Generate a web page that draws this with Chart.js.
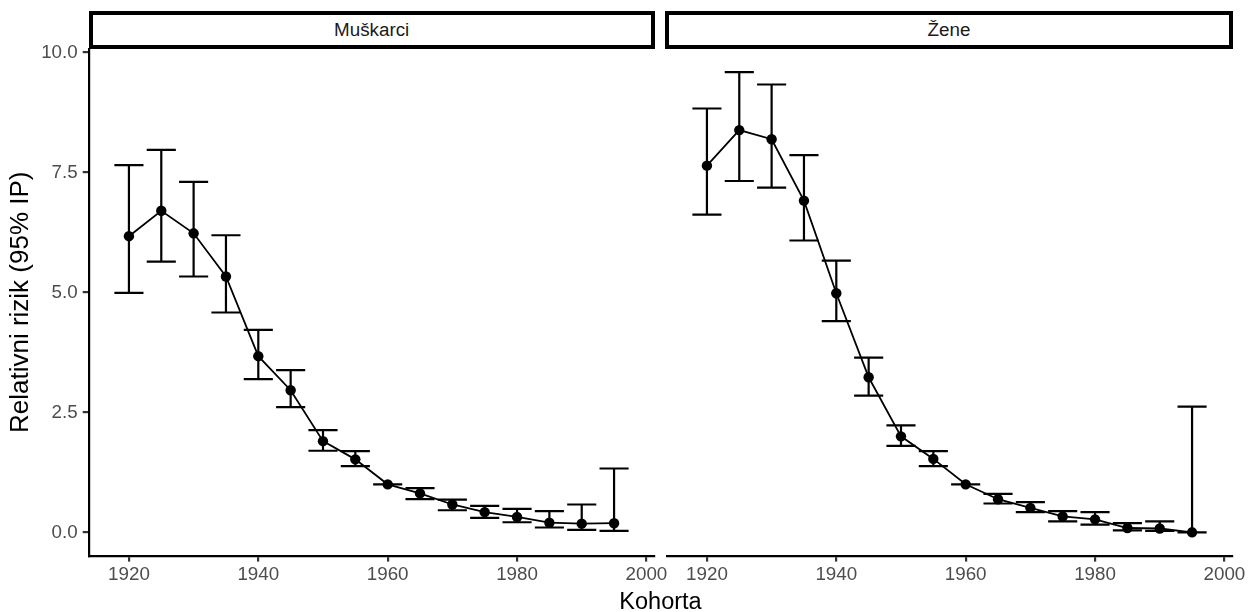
<!DOCTYPE html>
<html>
<head>
<meta charset="utf-8">
<title>Relativni rizik po kohortama</title>
<script src="https://cdn.jsdelivr.net/npm/chart.js@4"></script>
<style>
  html, body { margin: 0; padding: 0; background: #fff; }
  #wrap { position: relative; width: 1248px; height: 612px; overflow: hidden; background: #fff; }
  #wrap canvas { position: absolute; left: 0; top: 0; }
  .strip {
    position: absolute; top: 11px; height: 38px; box-sizing: border-box;
    border: 4px solid #000; background: #fff;
    font: 18.8px "Liberation Sans", Arial, sans-serif; color: #1a1a1a;
    display: flex; align-items: center; justify-content: center;
  }
  #xtitle {
    position: absolute; left: 88.7px; width: 1143.6px; top: 588px;
    text-align: center; line-height: 1;
    font: 23.5px "Liberation Sans", Arial, sans-serif; color: #000;
  }
</style>
</head>
<body>
<div id="wrap">
  <canvas id="muski" width="1248" height="612"></canvas>
  <canvas id="zene" width="1248" height="612"></canvas>
  <div class="strip" style="left:88.7px;width:566px;">Muškarci</div>
  <div class="strip" style="left:665px;width:568px;">Žene</div>
  <div id="xtitle">Kohorta</div>
</div>
<script>
// Kohorte (godina rođenja)
const kohorte = [1920, 1925, 1930, 1935, 1940, 1945, 1950, 1955, 1960, 1965, 1970, 1975, 1980, 1985, 1990, 1995];

// Muškarci: relativni rizik i 95% interval pouzdanosti
const muskarciRR     = [6.17, 6.70, 6.23, 5.33, 3.67, 2.96, 1.90, 1.52, 1.00, 0.81, 0.58, 0.42, 0.32, 0.20, 0.18, 0.19];
const muskarciDonja  = [4.99, 5.64, 5.33, 4.58, 3.19, 2.61, 1.70, 1.38, 1.00, 0.69, 0.46, 0.30, 0.21, 0.10, 0.05, 0.03];
const muskarciGornja = [7.65, 7.97, 7.30, 6.19, 4.22, 3.38, 2.13, 1.69, 1.00, 0.92, 0.68, 0.55, 0.49, 0.44, 0.58, 1.33];

// Žene: relativni rizik i 95% interval pouzdanosti
const zeneRR     = [7.64, 8.38, 8.19, 6.91, 4.98, 3.23, 2.00, 1.53, 1.00, 0.69, 0.51, 0.33, 0.27, 0.09, 0.08, 0.00];
const zeneDonja  = [6.62, 7.32, 7.18, 6.08, 4.40, 2.85, 1.80, 1.38, 1.00, 0.60, 0.42, 0.23, 0.16, 0.04, 0.03, 0.00];
const zeneGornja = [8.83, 9.59, 9.33, 7.86, 5.66, 3.64, 2.23, 1.69, 1.00, 0.80, 0.63, 0.44, 0.42, 0.19, 0.23, 2.62];

// Oznake na osima
const xTicks = [1920, 1940, 1960, 1980, 2000];
const yTicks = [0, 2.5, 5, 7.5, 10];

const FONT = '"Liberation Sans", Arial, sans-serif';

// Crta intervale pouzdanosti (okomita crta + kapice) preko skala grafikona
const errorBars = {
  id: 'errorBars',
  afterDatasetsDraw(chart, args, opts) {
    const { ctx, scales: { x, y } } = chart;
    ctx.save();
    ctx.strokeStyle = '#000';
    ctx.lineWidth = opts.lineWidth;
    ctx.lineCap = 'butt';
    opts.x.forEach((k, i) => {
      const px = x.getPixelForValue(k);
      const xl = x.getPixelForValue(k - opts.halfWidth);
      const xr = x.getPixelForValue(k + opts.halfWidth);
      const yl = y.getPixelForValue(opts.low[i]);
      const yh = y.getPixelForValue(opts.high[i]);
      ctx.beginPath();
      ctx.moveTo(px, yl); ctx.lineTo(px, yh);
      ctx.moveTo(xl, yl); ctx.lineTo(xr, yl);
      ctx.moveTo(xl, yh); ctx.lineTo(xr, yh);
      ctx.stroke();
    });
    ctx.restore();
  }
};

function panel(id, rr, donja, gornja, showY, padLeft, padRight) {
  return new Chart(document.getElementById(id), {
    type: 'line',
    data: {
      datasets: [{
        data: kohorte.map((k, i) => ({ x: k, y: rr[i] })),
        borderColor: '#000',
        borderWidth: 1.8,
        backgroundColor: '#000',
        pointBackgroundColor: '#000',
        pointBorderWidth: 0,
        pointRadius: 5.2,
        pointHoverRadius: 5.2,
        tension: 0,
        fill: false
      }]
    },
    plugins: [errorBars],
    options: {
      responsive: false,
      animation: false,
      events: [],
      devicePixelRatio: 1,
      layout: { padding: { left: padLeft, right: padRight, top: 49, bottom: 0 } },
      plugins: {
        legend: { display: false },
        tooltip: { enabled: false },
        errorBars: { x: kohorte, low: donja, high: gornja, halfWidth: 2.25, lineWidth: 2.2 }
      },
      scales: {
        x: {
          type: 'linear',
          min: 1913.78,
          max: 2001.22,
          afterBuildTicks: s => { s.ticks = xTicks.map(v => ({ value: v })); },
          afterFit: s => { s.height = 56.4; s.paddingLeft = 0; s.paddingRight = 0; },
          border: { display: true, color: '#000', width: 2.2 },
          grid: { display: true, drawOnChartArea: false, drawTicks: true, tickLength: 6, color: '#333', lineWidth: 2.2 },
          ticks: {
            color: '#4d4d4d', font: { family: FONT, size: 18.8 }, padding: 2,
            maxRotation: 0, autoSkip: false, callback: v => String(v)
          }
        },
        y: {
          type: 'linear',
          display: showY,
          min: -0.485,
          max: 10.07,
          afterBuildTicks: s => { s.ticks = yTicks.map(v => ({ value: v })); },
          afterFit: s => { s.width = showY ? 88.7 : 0; s.paddingTop = 0; s.paddingBottom = 0; },
          border: { display: true, color: '#000', width: 2.2 },
          grid: { display: true, drawOnChartArea: false, drawTicks: true, tickLength: 6, color: '#333', lineWidth: 2.2 },
          ticks: {
            color: '#4d4d4d', font: { family: FONT, size: 18.8 }, padding: 5,
            autoSkip: false, callback: v => v.toFixed(1)
          },
          title: {
            display: true, text: 'Relativni rizik (95% IP)', color: '#000',
            font: { family: FONT, size: 26 }, padding: { top: 5, bottom: 0 }
          }
        }
      }
    }
  });
}

panel('muski', muskarciRR, muskarciDonja, muskarciGornja, true, 0, 1248 - 654.3);
panel('zene', zeneRR, zeneDonja, zeneGornja, false, 666.7, 1248 - 1232.3);
</script>
</body>
</html>
